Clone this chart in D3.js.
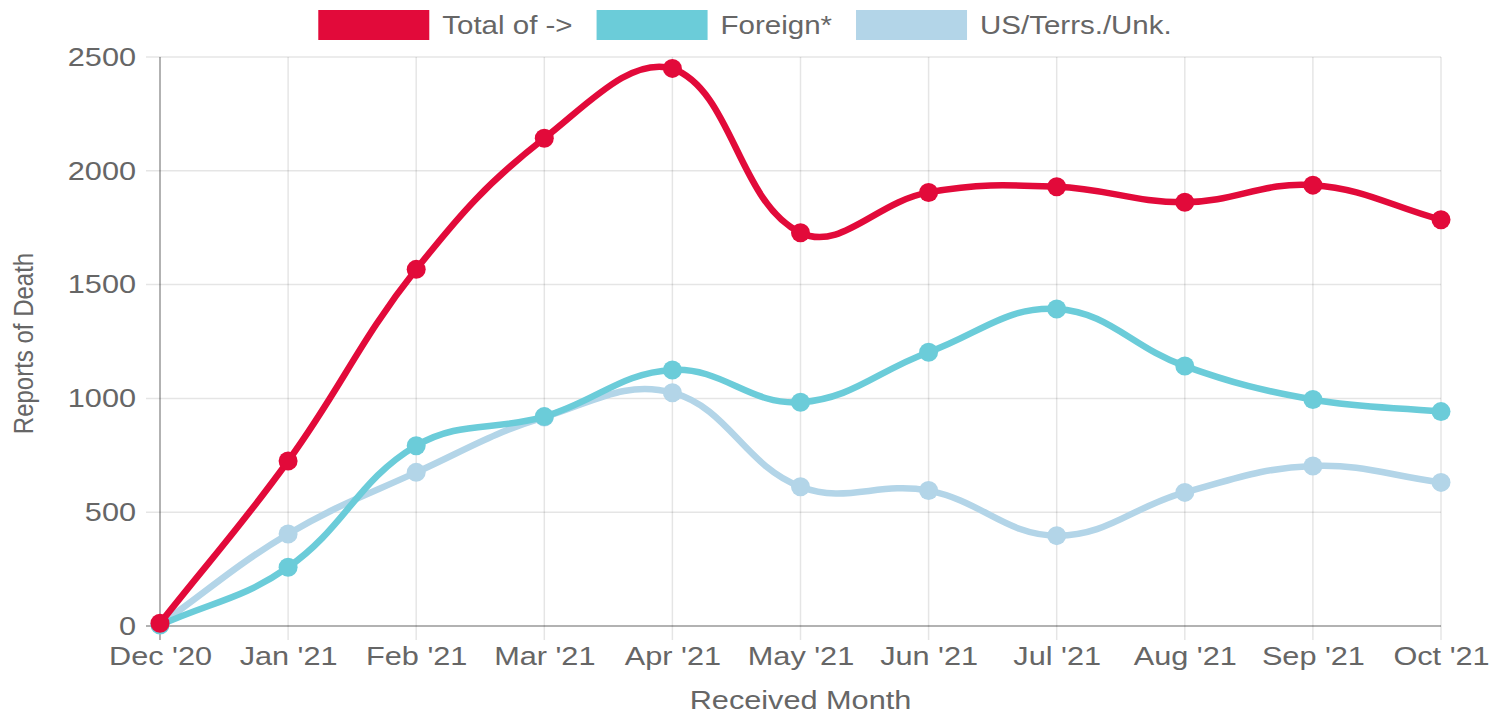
<!DOCTYPE html>
<html>
<head>
<meta charset="utf-8">
<script src="https://cdn.jsdelivr.net/npm/d3@7"></script>
<style>
html,body{margin:0;padding:0;background:#fff;}
svg{display:block;}
text{font-family:"Liberation Sans",Arial,Helvetica,sans-serif;fill:#666;}
</style>
</head>
<body>
<svg id="chart" width="1490" height="714"></svg>
<script>
const months = ["Dec '20","Jan '21","Feb '21","Mar '21","Apr '21","May '21","Jun '21","Jul '21","Aug '21","Sep '21","Oct '21"];
const totalValues = [12, 725, 1567, 2143, 2450, 1728, 1905, 1930, 1862, 1937, 1785];
const foreignValues = [4, 258, 792, 920, 1125, 983, 1203, 1393, 1142, 995, 942];
const usValues = [7, 404, 675, 918, 1025, 612, 595, 397, 587, 703, 631];
const seriesNames = ["Total of ->", "Foreign*", "US/Terrs./Unk."];
const seriesColors = ["#e20a3a", "#6bccd9", "#b3d5e8"];
const yTicks = [0, 500, 1000, 1500, 2000, 2500];

const series = [
  {name: seriesNames[0], values: totalValues, color: seriesColors[0]},
  {name: seriesNames[1], values: foreignValues, color: seriesColors[1]},
  {name: seriesNames[2], values: usValues, color: seriesColors[2]}
];

const SX = 1.18; // horizontal text stretch seen in the reference
const svg = d3.select("#chart");
const pLeft = 160, pRight = 1441, pTop = 57, pBottom = 626;

const x = d3.scalePoint().domain(months).range([pLeft, pRight]);
const y = d3.scaleLinear().domain([0, 2500]).range([pBottom, pTop]);

function stretch(sel) {
  sel.each(function() {
    const t = d3.select(this);
    const tx = +t.attr("x") || 0;
    t.attr("x", 0).attr("transform", `translate(${tx},0) scale(${SX},1)`);
  });
}

// gridlines
const grid = svg.append("g");
grid.selectAll("line.h").data(yTicks).join("line")
  .attr("x1", pLeft - 14).attr("x2", pRight)
  .attr("y1", d => y(d)).attr("y2", d => y(d))
  .attr("stroke", d => d === 0 ? "rgba(0,0,0,0.3)" : "rgba(0,0,0,0.1)")
  .attr("stroke-width", d => d === 0 ? 2 : 1.5);
grid.selectAll("line.v").data(months).join("line")
  .attr("x1", d => x(d)).attr("x2", d => x(d))
  .attr("y1", pTop).attr("y2", pBottom + 14)
  .attr("stroke", (d, i) => i === 0 ? "rgba(0,0,0,0.3)" : "rgba(0,0,0,0.1)")
  .attr("stroke-width", (d, i) => i === 0 ? 2 : 1.5);

// axes labels via d3 axes
const yAxis = svg.append("g").attr("transform", `translate(${pLeft - 16},0)`)
  .call(d3.axisLeft(y).tickValues(yTicks).tickSize(0).tickPadding(8).tickFormat(d3.format("d")));
yAxis.select(".domain").remove();
yAxis.selectAll("text").style("font-size", "26px").attr("fill", "#666").call(stretch);

const xAxis = svg.append("g").attr("transform", `translate(0,${pBottom + 17})`)
  .call(d3.axisBottom(x).tickSize(0).tickPadding(4));
xAxis.select(".domain").remove();
xAxis.selectAll("text").style("font-size", "26px").attr("fill", "#666").call(stretch);

svg.append("text").attr("transform", `translate(33,${(pTop + pBottom) / 2 + 2}) rotate(-90) scale(1,${SX})`)
  .attr("text-anchor", "middle").style("font-size", "24px").text("Reports of Death");
svg.append("text").attr("transform", `translate(${(pLeft + pRight) / 2},709) scale(${SX},1)`)
  .attr("text-anchor", "middle").style("font-size", "26px").text("Received Month");

// Chart.js-like spline curve (tension 0.4) with control points capped to chart area
function chartjsCurve(context) {
  let pts = [];
  const t = 0.4;
  const cap = (v, lo, hi) => Math.max(lo, Math.min(hi, v));
  return {
    areaStart() {}, areaEnd() {},
    lineStart() { pts = []; },
    point(px, py) { pts.push([px, py]); },
    lineEnd() {
      const n = pts.length;
      if (!n) return;
      const cps = pts.map((p, i) => {
        const prev = pts[i - 1] || p, next = pts[i + 1] || p;
        const d01 = Math.hypot(p[0] - prev[0], p[1] - prev[1]);
        const d12 = Math.hypot(next[0] - p[0], next[1] - p[1]);
        let s01 = d01 / (d01 + d12), s12 = d12 / (d01 + d12);
        if (isNaN(s01)) s01 = 0; if (isNaN(s12)) s12 = 0;
        const fa = t * s01, fb = t * s12;
        return {
          pin: [cap(p[0] - fa * (next[0] - prev[0]), pLeft, pRight), cap(p[1] - fa * (next[1] - prev[1]), pTop, pBottom)],
          pout: [cap(p[0] + fb * (next[0] - prev[0]), pLeft, pRight), cap(p[1] + fb * (next[1] - prev[1]), pTop, pBottom)]
        };
      });
      context.moveTo(pts[0][0], pts[0][1]);
      for (let i = 1; i < n; i++) {
        context.bezierCurveTo(cps[i - 1].pout[0], cps[i - 1].pout[1], cps[i].pin[0], cps[i].pin[1], pts[i][0], pts[i][1]);
      }
    }
  };
}

const line = d3.line()
  .x((d, i) => x(months[i]))
  .y(d => y(d))
  .curve(chartjsCurve);

const drawOrder = series.slice().reverse();
drawOrder.forEach(s => {
  const g = svg.append("g");
  g.append("path").attr("d", line(s.values))
    .attr("fill", "none").attr("stroke", s.color).attr("stroke-width", 6.5);
  g.selectAll("circle").data(s.values).join("circle")
    .attr("cx", (d, i) => x(months[i])).attr("cy", d => y(d))
    .attr("r", 9.5).attr("fill", s.color);
});

// legend
const legend = svg.append("g");
const boxW = 111, boxH = 30, gapText = 13, itemGap = 24, legendY = 10;
const items = series.map(s => {
  const g = legend.append("g");
  g.append("rect").attr("width", boxW).attr("height", boxH).attr("fill", s.color);
  const tx = g.append("text").attr("transform", `translate(${boxW + gapText},${boxH / 2 + 9}) scale(${SX},1)`)
    .style("font-size", "25px").text(s.name);
  return {g, w: boxW + gapText + tx.node().getComputedTextLength() * SX};
});
const totalW = d3.sum(items, d => d.w) + itemGap * (items.length - 1);
let cx = 745 - totalW / 2;
items.forEach(it => {
  it.g.attr("transform", `translate(${cx},${legendY})`);
  cx += it.w + itemGap;
});
</script>
</body>
</html>
